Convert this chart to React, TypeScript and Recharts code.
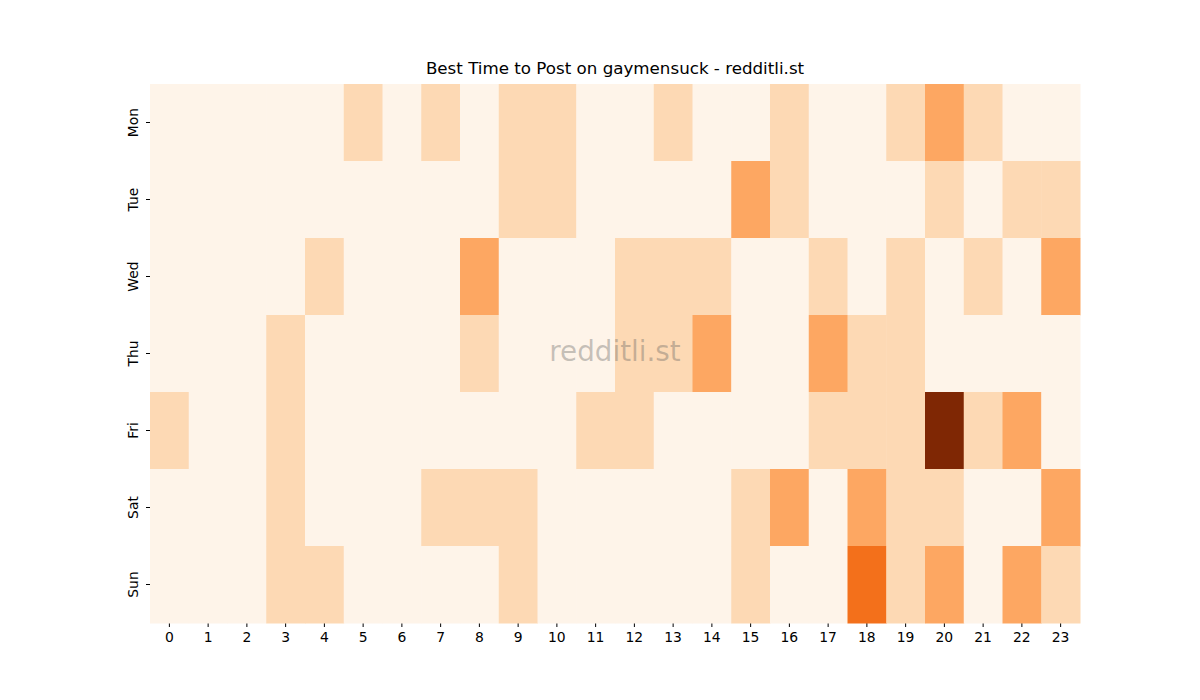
import React from 'react';
import { ScatterChart, Scatter, XAxis, YAxis, Cell } from 'recharts';

// posting activity by weekday (rows) and hour (columns)
const days = ['Mon', 'Tue', 'Wed', 'Thu', 'Fri', 'Sat', 'Sun'];
const hours = Array.from({ length: 24 }, (_, i) => i);

const mon = [0, 0, 0, 0, 0, 1, 0, 1, 0, 1, 1, 0, 0, 1, 0, 0, 1, 0, 0, 1, 2, 1, 0, 0];
const tue = [0, 0, 0, 0, 0, 0, 0, 0, 0, 1, 1, 0, 0, 0, 0, 2, 1, 0, 0, 0, 1, 0, 1, 1];
const wed = [0, 0, 0, 0, 1, 0, 0, 0, 2, 0, 0, 0, 1, 1, 1, 0, 0, 1, 0, 1, 0, 1, 0, 2];
const thu = [0, 0, 0, 1, 0, 0, 0, 0, 1, 0, 0, 0, 1, 1, 2, 0, 0, 2, 1, 1, 0, 0, 0, 0];
const fri = [1, 0, 0, 1, 0, 0, 0, 0, 0, 0, 0, 1, 1, 0, 0, 0, 0, 1, 1, 1, 5, 1, 2, 0];
const sat = [0, 0, 0, 1, 0, 0, 0, 1, 1, 1, 0, 0, 0, 0, 0, 1, 2, 0, 2, 1, 1, 0, 0, 2];
const sun = [0, 0, 0, 1, 1, 0, 0, 0, 0, 1, 0, 0, 0, 0, 0, 1, 0, 0, 3, 1, 2, 0, 2, 1];

const rows = [mon, tue, wed, thu, fri, sat, sun];

// Oranges colormap, indexed by value (max 5)
const palette = ['#fef4e9', '#fdd9b4', '#fda762', '#f3701b', '#c44103', '#7f2704'];

const W = 1200;
const H = 700;
const margin = { top: 84, right: 120, bottom: 47, left: 120 };
const yAxisW = 30;
const xAxisH = 30;
const plotW = W - margin.left - margin.right - yAxisW;
const plotH = H - margin.top - margin.bottom - xAxisH;
const cellW = plotW / hours.length;
const cellH = plotH / days.length;

const cells = rows.flatMap((r, d) => r.map((v, h) => ({ hour: h, day: d, value: v })));

const font = 'DejaVu Sans, sans-serif';

const CellShape = (props: any) => {
  const { cx, cy, fill } = props;
  return <rect x={cx - cellW / 2} y={cy - cellH / 2} width={cellW + 0.5} height={cellH + 0.5} fill={fill} />;
};

const DayTick = (props: any) => {
  const { x, y, payload } = props;
  const tx = x - 6;
  return (
    <text x={tx} y={y} transform={`rotate(-90, ${tx}, ${y})`} textAnchor="middle" fontSize={13.9} fontFamily={font} fill="#000">
      {days[payload.value]}
    </text>
  );
};

const HourTick = (props: any) => {
  const { x, y, payload } = props;
  return (
    <text x={x} y={y + 12.5} textAnchor="middle" fontSize={13.9} fontFamily={font} fill="#000">
      {payload.value}
    </text>
  );
};

export default function App() {
  return (
    <div style={{ position: 'absolute', left: 0, top: 0, width: W, height: H, background: '#fff' }}>
      <ScatterChart width={W} height={H} margin={margin}>
        <XAxis
          type="number"
          dataKey="hour"
          domain={[-0.5, 23.5]}
          ticks={hours}
          interval={0}
          height={xAxisH}
          axisLine={false}
          tickSize={4}
          tickLine={{ stroke: '#000' }}
          tick={<HourTick />}
        />
        <YAxis
          type="number"
          dataKey="day"
          domain={[-0.5, 6.5]}
          ticks={[0, 1, 2, 3, 4, 5, 6]}
          interval={0}
          reversed
          width={yAxisW}
          axisLine={false}
          tickSize={4}
          tickLine={{ stroke: '#000' }}
          tick={<DayTick />}
        />
        <Scatter data={cells} shape={<CellShape />} isAnimationActive={false}>
          {cells.map((c, i) => (
            <Cell key={`c-${i}`} fill={palette[c.value]} />
          ))}
        </Scatter>
      </ScatterChart>
      <div style={{ position: 'absolute', left: margin.left + yAxisW, width: plotW, top: 58, textAlign: 'center', fontFamily: font, fontSize: 16.7, color: '#000', lineHeight: '20px' }}>
        Best Time to Post on gaymensuck - redditli.st
      </div>
      <div style={{ position: 'absolute', left: margin.left + yAxisW, width: plotW, top: 334, textAlign: 'center', fontFamily: font, fontSize: 27.8, color: 'rgba(90,90,90,0.35)', lineHeight: '36px', pointerEvents: 'none' }}>
        redditli.st
      </div>
    </div>
  );
}
